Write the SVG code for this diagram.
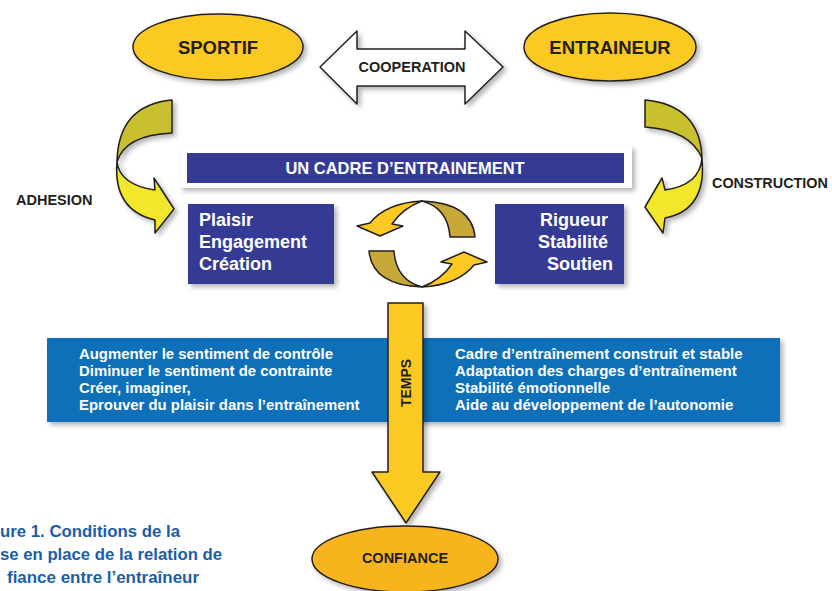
<svg xmlns="http://www.w3.org/2000/svg" width="832" height="591" viewBox="0 0 832 591">
<defs>
<filter id="sh" x="-20%" y="-20%" width="150%" height="150%">
<feGaussianBlur in="SourceAlpha" stdDeviation="2.5"/>
<feOffset dx="3" dy="3" result="b"/>
<feComponentTransfer><feFuncA type="linear" slope="0.3"/></feComponentTransfer>
<feMerge><feMergeNode/><feMergeNode in="SourceGraphic"/></feMerge>
</filter>
</defs>
<style>
.t{font-family:"Liberation Sans",Arial,sans-serif;font-weight:bold}
.dk{fill:#231f20}
.wh{fill:#ffffff}
.ol{stroke:#231f20;stroke-width:1.5;stroke-linejoin:round}
.yel{fill:#fbca24}
.cap{font-family:"Liberation Sans",Arial,sans-serif;font-weight:bold;fill:#1c5ea6;font-size:16px}
</style>
<rect width="832" height="591" fill="#ffffff"/>

<!-- blue band -->
<g id="band">
<rect x="47" y="338" width="733" height="84" fill="#0a6fb8" filter="url(#sh)"/>
<text class="t wh" font-size="14.9">
<tspan x="79" y="359">Augmenter le sentiment de contrôle</tspan>
<tspan x="79" y="376">Diminuer le sentiment de contrainte</tspan>
<tspan x="79" y="393">Créer, imaginer,</tspan>
<tspan x="79" y="410">Eprouver du plaisir dans l’entraînement</tspan>
</text>
<text class="t wh" font-size="15">
<tspan x="455" y="359">Cadre d’entraînement construit et stable</tspan>
<tspan x="455" y="376">Adaptation des charges d’entraînement</tspan>
<tspan x="455" y="393">Stabilité émotionnelle</tspan>
<tspan x="455" y="410">Aide au développement de l’autonomie</tspan>
</text>
</g>

<g id="connectors">
<g id="cooperation">
<polygon points="320,67 357,31 357,49 465,49 465,31 503,67 465,104 465,86 357,86 357,104" fill="#ffffff" class="ol" filter="url(#sh)"/>
<text class="t dk" font-size="14.5" x="412" y="72" text-anchor="middle">COOPERATION</text>
</g>
<g id="adhesion" filter="url(#sh)">
<path d="M172,100 L172,133 Q125,135 117,162 Q118,105 172,100 Z" fill="#c8c02e" class="ol"/>
<path d="M117,162 Q120,185 155,190 L154,178 L174,209 L155,233 L155,220 Q113,210 117,162 Z" fill="#f2e72c" class="ol"/>
</g>
<text class="t dk" font-size="14.5" x="16" y="205">ADHESION</text>
<g id="construction" filter="url(#sh)">
<path d="M645,100 L645,127 Q690,130 702,158 Q700,105 645,100 Z" fill="#c8c02e" class="ol"/>
<path d="M702,158 Q700,185 665,190 L662,178 L645,207 L663,233 L665,218 Q707,210 702,158 Z" fill="#f2e72c" class="ol"/>
</g>
<text class="t dk" font-size="14.4" x="712" y="188">CONSTRUCTION</text>
<g id="cycle">
<g>
<path d="M422,201 Q386,203 370,223 L357,226 L380,236 L403,226 L392,224 Q403,208 422,201 Z" fill="#fbc824" class="ol"/>
<path d="M422,201 Q472,203 475,237 L450,237 Q448,208 422,201 Z" fill="#c9a83a" class="ol"/>
</g>
<g transform="rotate(180 422 244)">
<path d="M422,201 Q386,203 370,223 L357,226 L380,236 L403,226 L392,224 Q403,208 422,201 Z" fill="#fbc824" class="ol"/>
<path d="M422,201 Q472,203 475,237 L450,237 Q448,208 422,201 Z" fill="#c9a83a" class="ol"/>
</g>
</g>
<g id="temps">
<polygon points="388,303 423,303 423,472 440,472 406,523 372,472 388,472" class="yel ol" filter="url(#sh)"/>
<text class="t dk" font-size="14" text-anchor="middle" transform="translate(411,383) rotate(-90)">TEMPS</text>
</g>
</g>

<g id="sportif">
<ellipse cx="218" cy="47" rx="85" ry="33" class="yel ol" filter="url(#sh)"/>
<text class="t dk" font-size="18.5" x="218" y="54" text-anchor="middle">SPORTIF</text>
</g>
<g id="entraineur">
<ellipse cx="610" cy="47" rx="86" ry="34" class="yel ol" filter="url(#sh)"/>
<text class="t dk" font-size="18.5" x="610" y="54" text-anchor="middle">ENTRAINEUR</text>
</g>
<g id="cadre">
<rect x="180" y="146" width="452" height="42" fill="#ffffff" filter="url(#sh)"/>
<rect x="187" y="153" width="437" height="30" fill="#353b94"/>
<text class="t wh" font-size="16.5" x="405" y="174" text-anchor="middle">UN CADRE D’ENTRAINEMENT</text>
</g>
<g id="plaisir">
<rect x="188" y="204" width="146" height="80" fill="#353b94" filter="url(#sh)"/>
<text class="t wh" font-size="18">
<tspan x="199" y="226">Plaisir</tspan>
<tspan x="199" y="248">Engagement</tspan>
<tspan x="199" y="270">Création</tspan>
</text>
</g>
<g id="rigueur">
<rect x="495" y="204" width="129" height="80" fill="#353b94" filter="url(#sh)"/>
<text class="t wh" font-size="18" text-anchor="end">
<tspan x="613" y="226">Rigueur</tspan>
<tspan x="613" y="248">Stabilité</tspan>
<tspan x="613" y="270">Soutien</tspan>
</text>
</g>
<g id="confiance">
<ellipse cx="405" cy="559" rx="93" ry="33" fill="#f8b41c" class="ol" filter="url(#sh)"/>
<text class="t dk" font-size="14.5" x="405" y="563" text-anchor="middle">CONFIANCE</text>
</g>

<g id="caption">
<text class="cap" x="0" y="537" textLength="180" lengthAdjust="spacingAndGlyphs">ure 1. Conditions de la</text>
<text class="cap" x="0" y="560" textLength="222" lengthAdjust="spacingAndGlyphs">se en place de la relation de</text>
<text class="cap" x="7" y="583" textLength="192" lengthAdjust="spacingAndGlyphs">fiance entre l’entraîneur</text>
</g>
</svg>
